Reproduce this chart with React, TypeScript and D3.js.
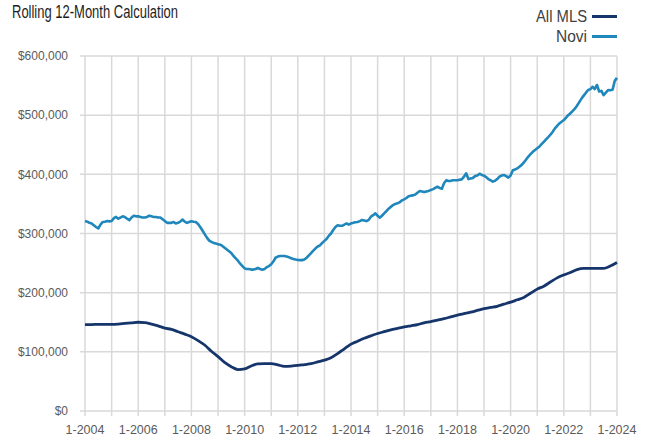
import React from "react";
import * as d3 from "d3";

const TITLE = "Rolling 12-Month Calculation";
const SERIES_NAMES = ["All MLS", "Novi"];
const START_YEAR = 2004;
const END_YEAR = 2024;
const Y_TICKS = [0, 100000, 200000, 300000, 400000, 500000, 600000];
const X_LABEL_YEARS = [2004, 2006, 2008, 2010, 2012, 2014, 2016, 2018, 2020, 2022, 2024];

// All MLS, quarterly (Jan, Apr, Jul, Oct), in $ thousands, Jan 2004 .. Jan 2024
const allMlsQuarterly = [
  146, 146, 146.5, 146.5,
  146.5, 147, 148, 149,
  150, 149.5, 147, 144,
  140, 138, 134, 130,
  125.6, 119, 111.5, 101,
  91.8, 82, 74.9, 70,
  71, 76, 79.5, 80,
  80, 78, 75.5, 76,
  77, 78.5, 80, 83,
  86, 90, 97, 105,
  113, 118, 123, 127,
  131, 134, 137, 139.5,
  142, 144, 146, 149,
  151, 153.5, 156, 159,
  162, 164.5, 167, 170,
  173, 175, 177, 180.5,
  184, 188, 192, 199,
  206, 211, 218, 225,
  230, 234, 239, 241,
  241, 241, 241, 245,
  251,
];

// Novi, monthly, in $ thousands, Jan 2004 .. Jan 2024
const noviMonthly = [
  321, 320, 318, 317, 314, 311, 308.5, 315, 319.5, 320, 321, 320.5,
  321, 326, 328, 325, 327, 329, 328, 325, 322.5, 327, 330, 329,
  329, 328, 327, 327, 328, 330, 329, 328, 328, 327, 327, 324,
  321, 318, 318, 318, 319.5, 317, 318, 320, 323.6, 320, 318, 319.5,
  320.8, 320, 319.5, 316, 311, 305, 299, 293, 288, 286, 284, 283,
  282, 281, 279, 276, 273, 270, 267, 262, 258, 254, 249, 245,
  241, 240, 240, 239, 239, 240, 242, 240, 238.8, 240, 243, 245,
  248, 253, 259, 261, 262, 262, 262, 261, 260, 258, 257, 256,
  255.4, 255, 255, 256, 259, 263, 267, 271, 275, 278, 280, 284,
  287.5, 291, 296, 300, 306, 311, 314, 313, 313, 315, 317, 315,
  317, 318, 319, 319.4, 321, 322.8, 322, 321, 323, 328.5, 331, 334,
  330, 326.8, 330, 334, 338, 342, 345, 348, 350, 351, 353, 356,
  357.7, 360, 363, 364, 364.5, 366, 369, 371.8, 371, 370, 371, 372,
  373.5, 375, 377, 379, 377, 375.8, 385, 390, 388.7, 389, 390, 390,
  390, 391, 391.5, 396, 401.7, 392, 393, 394, 397, 398, 401, 399,
  397.8, 395, 392, 390, 387.7, 389, 392, 396, 398, 398.9, 397, 394.4,
  398, 407, 408, 410, 413, 416, 420, 425, 430, 434, 438, 441,
  444, 447, 451, 455, 459, 463, 467, 472, 477.7, 482, 486, 489,
  491.8, 496, 500, 503, 507, 511, 516, 522, 528, 533, 538, 542.5,
  544, 548, 544, 551, 540, 541, 534, 538, 542.5, 542, 543, 558,
  563,
];

const W = 650;
const H = 439;
const M = { left: 85, right: 33, top: 56, bottom: 28 };
const NAVY = "#15356b";
const TEAL = "#1f87bb";
const GRID = "#d9d9d9";
const LABEL = "#5a5a5a";
const NARROW = "'Liberation Sans Narrow', 'Arial Narrow', 'Liberation Sans', Arial, sans-serif";
const SANS = "'Liberation Sans', Arial, sans-serif";

type Pt = { date: Date; value: number };

export default function App() {
  const x = d3
    .scaleTime()
    .domain([new Date(START_YEAR, 0, 1), new Date(END_YEAR, 0, 1)])
    .range([M.left, W - M.right]);
  const y = d3.scaleLinear().domain([0, 600000]).range([H - M.bottom, M.top]);

  const allMls: Pt[] = allMlsQuarterly.map((v, i) => ({
    date: new Date(START_YEAR, i * 3, 1),
    value: v * 1000,
  }));
  const novi: Pt[] = noviMonthly.map((v, i) => ({
    date: new Date(START_YEAR, i, 1),
    value: v * 1000,
  }));

  const line = d3
    .line<Pt>()
    .x((d) => x(d.date))
    .y((d) => y(d.value));
  const smoothLine = d3
    .line<Pt>()
    .x((d) => x(d.date))
    .y((d) => y(d.value))
    .curve(d3.curveMonotoneX);

  const years = d3.range(START_YEAR, END_YEAR + 1);
  const fmt = (v: number) => "$" + d3.format(",")(v);
  const x0 = M.left;
  const x1 = W - M.right;
  const yBottom = H - M.bottom;

  return (
    <svg
      width={W}
      height={H}
      style={{ position: "absolute", left: 0, top: 0, background: "#fff" }}
    >
      <rect width={W} height={H} fill="#fff" />
      {Y_TICKS.map((t) => (
        <line
          key={"h" + t}
          x1={x0 - 5}
          x2={x1}
          y1={y(t)}
          y2={y(t)}
          stroke={GRID}
          strokeWidth={1.5}
        />
      ))}
      {years.map((yr) => (
        <line
          key={"v" + yr}
          x1={x(new Date(yr, 0, 1))}
          x2={x(new Date(yr, 0, 1))}
          y1={M.top}
          y2={yBottom + 5}
          stroke={GRID}
          strokeWidth={1.5}
        />
      ))}
      {Y_TICKS.map((t) => (
        <text
          key={"yl" + t}
          x={68}
          y={y(t)}
          dy="0.35em"
          textAnchor="end"
          fontFamily={SANS}
          fontSize={12}
          fill={LABEL}
        >
          {fmt(t)}
        </text>
      ))}
      {X_LABEL_YEARS.map((yr) => (
        <text
          key={"xl" + yr}
          x={x(new Date(yr, 0, 1))}
          y={yBottom + 23}
          textAnchor="middle"
          fontFamily={SANS}
          fontSize={12.5}
          fill={LABEL}
        >
          {"1-" + yr}
        </text>
      ))}
      <path d={smoothLine(allMls) || ""} fill="none" stroke={NAVY} strokeWidth={2.8} strokeLinejoin="round" />
      <path d={line(novi) || ""} fill="none" stroke={TEAL} strokeWidth={2.6} strokeLinejoin="round" />
      <text
        x={12}
        y={18}
        fontFamily={NARROW}
        fontSize={17.5}
        fill="#1e1e1e"
        textLength={166}
        lengthAdjust="spacingAndGlyphs"
      >
        {TITLE}
      </text>
      {SERIES_NAMES.map((name, i) => (
        <g key={name}>
          <text
            x={587}
            y={16.5 + i * 20}
            dy="0.35em"
            textAnchor="end"
            fontFamily={NARROW}
            fontSize={16}
            fill="#404040"
            textLength={i === 0 ? 51 : 31}
            lengthAdjust="spacingAndGlyphs"
          >
            {name}
          </text>
          <line
            x1={592}
            x2={617}
            y1={16.5 + i * 20}
            y2={16.5 + i * 20}
            stroke={i === 0 ? NAVY : TEAL}
            strokeWidth={3}
          />
        </g>
      ))}
    </svg>
  );
}
